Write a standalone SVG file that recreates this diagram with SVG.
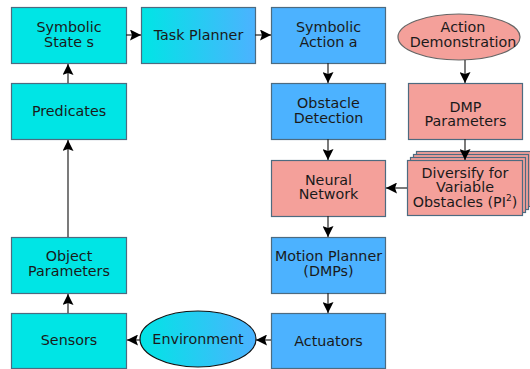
<svg xmlns="http://www.w3.org/2000/svg" width="530" height="369" viewBox="0 0 530 369">
<defs>
<linearGradient id="grad" x1="0" y1="0" x2="1" y2="0">
<stop offset="0" stop-color="#00e5e5"/>
<stop offset="1" stop-color="#4cb2ff"/>
</linearGradient>
<marker id="ah" markerWidth="11" markerHeight="11" refX="11" refY="5.5" orient="auto" markerUnits="userSpaceOnUse">
<path d="M0,0 L11,5.5 L0,11 L2,5.5 Z" fill="#000"/>
</marker>
</defs>
<style>
rect, ellipse { stroke: #4d6b80; stroke-width: 1.2; }
.cyan { fill: #00e5e5; }
.blue { fill: #4cb2ff; }
.salmon { fill: #f4a09a; }
.grad { fill: url(#grad); }
text { font-family: "DejaVu Sans", sans-serif; font-size: 14.3px; fill: #1a1a1a; text-anchor: middle; }
#connectors line { stroke: #222; stroke-width: 1.2; marker-end: url(#ah); }
</style>
<rect width="530" height="369" fill="#fff" style="stroke:none"/>

<g id="symbolic-state">
<rect class="cyan" x="11.5" y="7.5" width="115" height="56"/>
<text x="69" y="32">Symbolic</text>
<text x="69" y="46.5">State s</text>
</g>
<g id="task-planner">
<rect class="grad" x="141.5" y="7.5" width="114" height="56"/>
<text x="198.5" y="39.5">Task Planner</text>
</g>
<g id="symbolic-action">
<rect class="blue" x="271.5" y="7.5" width="114" height="56"/>
<text x="328.5" y="32">Symbolic</text>
<text x="328.5" y="46.5">Action a</text>
</g>
<g id="action-demonstration">
<ellipse class="salmon" cx="459" cy="37" rx="61" ry="23" style="stroke:#666"/>
<text x="463" y="32">Action</text>
<text x="463" y="46.5">Demonstration</text>
</g>
<g id="predicates">
<rect class="cyan" x="11.5" y="83.5" width="115" height="56"/>
<text x="69" y="116">Predicates</text>
</g>
<g id="obstacle-detection">
<rect class="blue" x="271.5" y="83.5" width="114" height="56"/>
<text x="328.5" y="108">Obstacle</text>
<text x="328.5" y="122.5">Detection</text>
</g>
<g id="dmp-parameters">
<rect class="salmon" x="408.5" y="83.5" width="114" height="56"/>
<text x="465.5" y="111.5">DMP</text>
<text x="465.5" y="126">Parameters</text>
</g>
<g id="neural-network">
<rect class="salmon" x="271.5" y="160.5" width="114" height="56"/>
<text x="328.5" y="184.5">Neural</text>
<text x="328.5" y="199">Network</text>
</g>
<g id="diversify">
<rect class="salmon" x="416.5" y="151.5" width="115" height="55"/>
<rect class="salmon" x="413.5" y="154.5" width="115" height="55"/>
<rect class="salmon" x="410.5" y="157.5" width="115" height="55"/>
<rect class="salmon" x="407.5" y="160.5" width="115" height="55"/>
<text x="465" y="177.5">Diversify for</text>
<text x="465" y="192">Variable</text>
<text x="465" y="206.5">Obstacles (PI<tspan font-size="9" dy="-6">2</tspan><tspan dy="6">)</tspan></text>
</g>
<g id="motion-planner">
<rect class="blue" x="271.5" y="237.5" width="114" height="56"/>
<text x="328.5" y="261">Motion Planner</text>
<text x="328.5" y="275.5">(DMPs)</text>
</g>
<g id="object-parameters">
<rect class="cyan" x="11.5" y="237.5" width="115" height="56"/>
<text x="69" y="261">Object</text>
<text x="69" y="275.5">Parameters</text>
</g>
<g id="sensors">
<rect class="cyan" x="11.5" y="313.5" width="115" height="55"/>
<text x="69" y="345">Sensors</text>
</g>
<g id="environment">
<ellipse class="grad" cx="198" cy="339" rx="58" ry="28" style="stroke:#111"/>
<text x="198" y="344">Environment</text>
</g>
<g id="actuators">
<rect class="blue" x="271.5" y="313.5" width="114" height="55"/>
<text x="328.5" y="346">Actuators</text>
</g>

<g id="connectors">
<line x1="126" y1="35" x2="141" y2="35"/>
<line x1="255" y1="35" x2="271" y2="35"/>
<line x1="328" y1="63" x2="328" y2="83"/>
<line x1="465" y1="60" x2="465" y2="83"/>
<line x1="328" y1="139" x2="328" y2="160"/>
<line x1="465" y1="139" x2="465" y2="160"/>
<line x1="407" y1="188" x2="386" y2="188"/>
<line x1="328" y1="216" x2="328" y2="237"/>
<line x1="328" y1="293" x2="328" y2="313"/>
<line x1="271" y1="340" x2="256" y2="340"/>
<line x1="140" y1="340" x2="127" y2="340"/>
<line x1="68" y1="313" x2="68" y2="294"/>
<line x1="68" y1="237" x2="68" y2="140"/>
<line x1="68" y1="83" x2="68" y2="64"/>
</g>
</svg>
